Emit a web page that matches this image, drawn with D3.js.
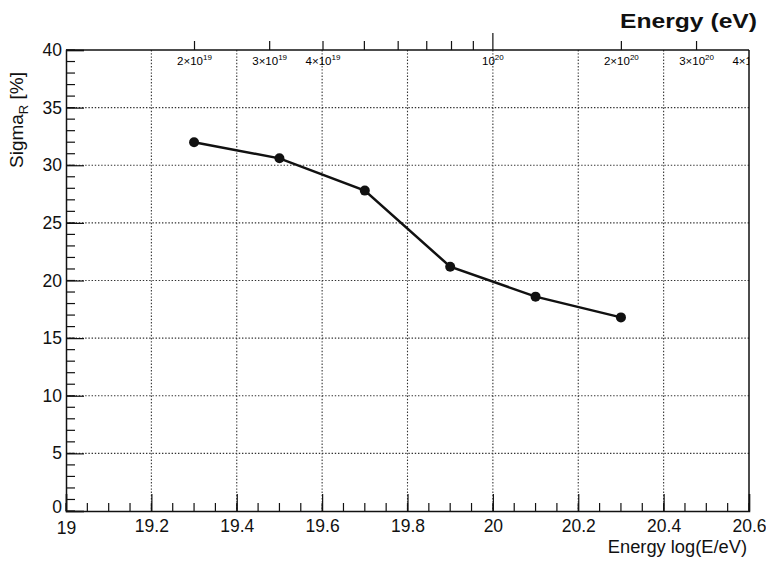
<!DOCTYPE html>
<html lang="en">
<head>
<meta charset="utf-8">
<title>Sigma_R vs energy</title>
<script src="https://cdn.jsdelivr.net/npm/d3@7"></script>
<style>
  body { margin: 0; background: #fff; }
  svg text { font-family: "Liberation Sans", Arial, Helvetica, sans-serif; fill: #111; }
  .grid line { stroke: #333; stroke-width: 1.1; stroke-dasharray: 1.4,1.8; }
</style>
</head>
<body>
<div id="chart"></div>
<script>
// data
let logE = [19.3, 19.5, 19.7, 19.9, 20.1, 20.3];
let sigmaR = [32.0, 30.6, 27.8, 21.2, 18.6, 16.8];

let xTicks = [19, 19.2, 19.4, 19.6, 19.8, 20, 20.2, 20.4, 20.6];
let yTicks = [0, 5, 10, 15, 20, 25, 30, 35, 40];
// top energy axis (eV)
let eTicks = [2e19, 3e19, 4e19, 5e19, 6e19, 7e19, 8e19, 9e19, 1e20, 2e20, 3e20, 4e20];
let eLabels = [
  {v: 2e19, m: "2\u00d710", p: "19"},
  {v: 3e19, m: "3\u00d710", p: "19"},
  {v: 4e19, m: "4\u00d710", p: "19"},
  {v: 1e20, m: "10", p: "20"},
  {v: 2e20, m: "2\u00d710", p: "20"},
  {v: 3e20, m: "3\u00d710", p: "20"},
  {v: 4e20, m: "4\u00d710", p: "20"}
];

let W = 766, H = 562;
let margin = {top: 50, right: 17, bottom: 51, left: 66};
let width = W - margin.left - margin.right,
    height = H - margin.top - margin.bottom;

let svg = d3.select("#chart").append("svg")
    .attr("width", W).attr("height", H);

let g = svg.append("g")
    .attr("transform", "translate(" + margin.left + "," + margin.top + ")");

let x = d3.scaleLinear().domain([19, 20.6]).range([0, width]);
let y = d3.scaleLinear().domain([0, 40]).range([height, 0]);
let xe = d3.scaleLog().domain([1e19, Math.pow(10, 20.6)]).range([0, width]);

g.append("clipPath").attr("id", "frame")
  .append("rect").attr("x", 0).attr("y", -40).attr("width", width).attr("height", height + 40);

// grid
let grid = g.append("g").attr("class", "grid");
grid.selectAll(".gx").data(xTicks.slice(1, -1)).enter().append("line")
    .attr("x1", d => x(d)).attr("x2", d => x(d))
    .attr("y1", 0).attr("y2", height);
grid.selectAll(".gy").data(yTicks.slice(1, -1)).enter().append("line")
    .attr("x1", 0).attr("x2", width)
    .attr("y1", d => y(d)).attr("y2", d => y(d));

// ticks pointing inside, ROOT style
let minorX = d3.range(0, 33).map(i => 19 + i * 0.05);
let minorY = d3.range(0, 41, 1);

let xAxis = d3.axisBottom(x).tickValues(xTicks).tickSize(-17).tickPadding(6)
    .tickFormat(d => String(+d.toFixed(1)));
let xg = g.append("g").attr("transform", "translate(0," + height + ")").call(xAxis);
xg.selectAll(".tick line").attr("stroke", "#111").attr("stroke-width", 1.2);
xg.append("g").selectAll("line").data(minorX).enter().append("line")
    .attr("x1", d => x(d)).attr("x2", d => x(d)).attr("y1", 0).attr("y2", -8)
    .attr("stroke", "#111").attr("stroke-width", 1.2);
xg.selectAll(".tick text").attr("font-size", 17.5).attr("dy", "0.85em")
    .attr("font-family", "'Liberation Sans', Arial, sans-serif").attr("fill", "#111");

let yAxis = d3.axisLeft(y).tickValues(yTicks).tickSize(-18).tickPadding(4);
let yg = g.append("g").call(yAxis);
yg.selectAll(".tick line").attr("stroke", "#111").attr("stroke-width", 1.2);
yg.append("g").selectAll("line").data(minorY).enter().append("line")
    .attr("x1", 0).attr("x2", 9).attr("y1", d => y(d)).attr("y2", d => y(d))
    .attr("stroke", "#111").attr("stroke-width", 1.2);
yg.selectAll(".tick text").attr("font-size", 17.5)
    .attr("font-family", "'Liberation Sans', Arial, sans-serif").attr("fill", "#111");
yg.selectAll(".tick text").filter(d => d === 0).attr("dy", "0.1em");
xg.selectAll(".tick text").filter(d => d === 19).attr("dy", "0.95em");
g.selectAll(".domain").attr("stroke", "#111").attr("stroke-width", 1.5);

// frame top and right
g.append("line").attr("x1", 0).attr("x2", width).attr("y1", 0).attr("y2", 0)
    .attr("stroke", "#111").attr("stroke-width", 1.5);
g.append("line").attr("x1", width).attr("x2", width).attr("y1", 0).attr("y2", height)
    .attr("stroke", "#111").attr("stroke-width", 1.5);

// top energy axis
let topAxis = g.append("g").attr("clip-path", "url(#frame)");
topAxis.selectAll("line").data(eTicks).enter().append("line")
    .attr("x1", d => xe(d)).attr("x2", d => xe(d))
    .attr("y1", 0).attr("y2", d => d === 1e20 ? -17 : -9)
    .attr("stroke", "#111").attr("stroke-width", 1.2);
let lab = topAxis.selectAll("text").data(eLabels).enter().append("text")
    .attr("x", d => xe(d.v)).attr("y", 15)
    .attr("text-anchor", "middle")
    .attr("font-size", 11.5).style("fill", "#000");
lab.append("tspan").text(d => d.m);
lab.append("tspan").attr("dy", -5).attr("font-size", 8).text(d => d.p);

// line and markers
let line = d3.line().x((d, i) => x(logE[i])).y(d => y(d));
g.append("path").datum(sigmaR).attr("d", line)
    .attr("fill", "none").attr("stroke", "#111").attr("stroke-width", 2.5);
g.selectAll(".pt").data(sigmaR).enter().append("circle")
    .attr("cx", (d, i) => x(logE[i])).attr("cy", d => y(d)).attr("r", 5)
    .attr("fill", "#111");

// titles
svg.append("text").attr("x", 757).attr("y", 28).attr("text-anchor", "end")
    .attr("font-size", 21).attr("font-weight", "bold")
    .attr("textLength", 137).attr("lengthAdjust", "spacingAndGlyphs")
    .text("Energy (eV)");
svg.append("text").attr("x", 747).attr("y", 553).attr("text-anchor", "end")
    .attr("font-size", 18.3).text("Energy log(E/eV)");
let yt = svg.append("text").attr("transform", "translate(23,72) rotate(-90)")
    .attr("text-anchor", "end").attr("font-size", 19);
yt.append("tspan").text("Sigma");
yt.append("tspan").attr("dy", 5).attr("font-size", 13).text("R");
yt.append("tspan").attr("dy", -5).text(" [%]");
</script>
</body>
</html>
